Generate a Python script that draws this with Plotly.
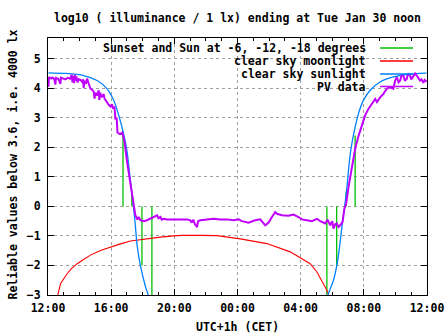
import plotly.graph_objects as go
from datetime import datetime, timedelta

# ---------------- data (hours after 12:00 on Mon Jan 29) ----------------
sun_hours = [0.03, 1.11, 2.26, 3.11, 3.74, 4.16, 4.48, 4.79, 5.01, 5.17, 5.38, 5.49, 5.65, 5.87, 6.18, 6.35, 6.50,
             17.60, 17.76, 18.08, 18.29, 18.46, 18.61, 18.78, 18.93, 19.09, 19.24, 19.45, 19.66, 19.97, 20.40,
             21.03, 21.87, 22.72, 23.98]
sun_values = [4.52, 4.50, 4.43, 4.26, 3.98, 3.59, 3.08, 2.45, 1.85, 1.10, 0.15, -0.40, -1.35, -2.05, -2.73, -3.00, -3.30,
              -3.30, -2.95, -2.50, -2.00, -1.39, -0.70, -0.02, 0.65, 1.55, 2.12, 2.68, 3.14, 3.59, 3.93,
              4.21, 4.38, 4.47, 4.51]

moon_hours = [0.58, 0.62, 0.79, 1.00, 1.21, 1.50, 1.85, 2.30, 2.69, 3.32, 3.95, 4.59, 5.22, 5.85, 6.48, 7.12,
              7.96, 8.50, 9.65, 10.70, 12.18, 13.86, 15.34, 15.97, 16.60, 17.03, 17.34, 17.55, 17.76, 17.80]
moon_values = [-3.20, -3.00, -2.62, -2.45, -2.28, -2.10, -1.94, -1.78, -1.65, -1.49, -1.37, -1.27, -1.17, -1.12, -1.07, -1.04,
               -1.00, -0.98, -0.98, -0.99, -1.10, -1.26, -1.54, -1.74, -1.94, -2.22, -2.50, -2.73, -2.96, -3.10]

event_hours = [4.75, 5.31, 5.95, 6.58, 17.66, 18.28, 18.88, 19.45]
event_tops = [2.42, 0.50, -2.00, -3.00, -3.00, -2.00, 0.50, 2.40]

pv_hours = [0.00, 0.03, 0.06, 0.20, 0.30, 0.40, 0.47, 0.50, 0.65, 0.79, 0.82, 0.95, 1.10, 1.25, 1.40, 1.50,
            1.55, 1.60, 1.65, 1.70, 1.75, 1.80, 1.87, 1.95, 2.05, 2.15, 2.22, 2.26, 2.30, 2.40, 2.48, 2.55,
            2.69, 2.80, 2.90, 2.95, 3.00, 3.10, 3.21, 3.25, 3.30, 3.40, 3.53, 3.58, 3.74, 3.85, 3.95, 4.06,
            4.10, 4.21, 4.27, 4.35, 4.40, 4.55, 4.71, 4.84, 5.01, 5.17, 5.28, 5.41, 5.53, 5.66, 5.74, 5.85,
            6.06, 6.27, 6.48, 6.69, 6.91, 7.00, 7.12, 7.20, 7.32, 7.54, 7.75, 7.96, 8.38, 8.80, 9.01, 9.10,
            9.20, 9.30, 9.44, 9.50, 9.65, 10.07, 10.49, 10.91, 11.33, 11.75, 11.97, 12.07, 12.28, 12.70, 13.12,
            13.44, 13.76, 13.97, 14.18, 14.39, 14.50, 14.81, 15.23, 15.55, 15.86, 16.08, 16.39, 16.71, 17.03,
            17.24, 17.55, 17.70, 17.87, 18.00, 18.08, 18.20, 18.29, 18.40, 18.50, 18.65, 18.77, 18.88, 19.03,
            19.24, 19.45, 19.66, 19.87, 20.08, 20.29, 20.51, 20.72, 20.83, 21.03, 21.24, 21.45, 21.66, 21.87,
            21.98, 22.09, 22.20, 22.30, 22.40, 22.50, 22.60, 22.72, 22.80, 22.93, 23.00, 23.14, 23.25, 23.35,
            23.45, 23.56, 23.65, 23.77, 23.85, 23.98]
pv_values = [4.35, 4.05, 4.38, 4.33, 4.36, 4.30, 4.12, 4.35, 4.32, 4.15, 4.36, 4.34, 4.30, 4.35, 4.32, 4.45,
             4.20, 4.42, 4.17, 4.45, 4.25, 4.40, 4.20, 4.30, 4.28, 4.22, 4.30, 4.00, 4.25, 4.15, 4.33, 4.20,
             3.98, 3.95, 3.87, 3.65, 3.85, 3.75, 3.93, 3.60, 3.85, 3.70, 3.80, 3.65, 3.50, 3.44, 3.38, 3.45,
             3.33, 3.35, 2.97, 2.97, 2.50, 2.45, 2.50, 2.20, 1.50, 0.90, 0.50, 0.00, -0.30, -0.45, -0.36, -0.47,
             -0.50, -0.47, -0.42, -0.36, -0.30, -0.40, -0.36, -0.45, -0.42, -0.44, -0.44, -0.44, -0.44, -0.44, -0.47, -0.55,
             -0.45, -0.60, -0.70, -0.50, -0.47, -0.44, -0.42, -0.44, -0.44, -0.47, -0.44, -0.44, -0.50, -0.55, -0.47,
             -0.44, -0.64, -0.55, -0.36, -0.19, -0.25, -0.30, -0.32, -0.28, -0.36, -0.44, -0.47, -0.50, -0.42,
             -0.50, -0.58, -0.45, -0.64, -0.50, -0.75, -0.60, -0.58, -0.70, -0.64, -0.53, -0.08, 0.09, 0.65,
             1.33, 1.95, 2.38, 2.70, 3.08, 3.30, 3.47, 3.64, 3.53, 3.69, 3.81, 3.98, 4.04, 3.98,
             4.26, 4.37, 4.20, 4.26, 4.45, 4.43, 4.25, 4.32, 4.50, 4.43, 4.30, 4.40, 4.50, 4.43,
             4.35, 4.26, 4.30, 4.18, 4.28, 4.22]

legend_labels = ["Sunset and Sun at -6, -12, -18 degrees", "clear sky moonlight", "clear sky sunlight", "PV data"]
title_text = "log10 ( illuminance / 1 lx) ending at Tue Jan 30 noon"
x_title = "UTC+1h (CET)"
y_title = "Reliable values below 3.6, i.e. 4000 lx"

# ---------------- build ----------------
base = datetime(2024, 1, 29, 12, 0)
def t(h):
    return base + timedelta(hours=h)

C_GREEN, C_RED, C_BLUE, C_PURPLE = "#00c000", "#ff0000", "#0080ff", "#c000ff"
FONT = dict(family="DejaVu Sans Mono, Liberation Mono, monospace", size=11.5, color="black", weight="bold")

gx, gy = [], []
for h, top in zip(event_hours, event_tops):
    gx += [t(h), t(h), None]
    gy += [0, top, None]

fig = go.Figure()
fig.add_trace(go.Scatter(x=gx, y=gy, mode="lines", line=dict(color=C_GREEN, width=1.3), showlegend=False))
fig.add_trace(go.Scatter(x=[t(h) for h in moon_hours], y=moon_values, mode="lines",
                         line=dict(color=C_RED, width=1.1), showlegend=False))
fig.add_trace(go.Scatter(x=[t(h) for h in sun_hours], y=sun_values, mode="lines",
                         line=dict(color=C_BLUE, width=1.3, shape="spline", smoothing=0.6), showlegend=False))
fig.add_trace(go.Scatter(x=[t(h) for h in pv_hours], y=pv_values, mode="lines",
                         line=dict(color=C_PURPLE, width=2), showlegend=False))

L, R, T, B = 47.5, 427.0, 38.0, 295.0
W, H = R - L, B - T
def px(x):
    return (x - L) / W
def py(y):
    return (B - y) / H

shapes = [dict(type="rect", xref="paper", yref="paper", x0=px(100), x1=1, y0=py(93), y1=1,
               fillcolor="white", line=dict(width=0), layer="between")]
annotations = []
rows = [48, 61, 74, 86.5]
colors = [C_GREEN, C_RED, C_BLUE, C_PURPLE]
for lab, yy, c in zip(legend_labels, rows, colors):
    annotations.append(dict(text=lab, xref="paper", yref="paper", x=px(368), y=py(yy), xanchor="right",
                            yanchor="middle", showarrow=False, font=FONT))
    shapes.append(dict(type="line", xref="paper", yref="paper", x0=px(380), x1=px(413), y0=py(yy), y1=py(yy),
                       line=dict(color=c, width=1.3), layer="above"))
annotations.append(dict(text=title_text, xref="paper", yref="paper", x=0.5, y=py(18), xanchor="center",
                        yanchor="middle", showarrow=False, font=FONT))
annotations.append(dict(text=x_title, xref="paper", yref="paper", x=px(237), y=py(327), xanchor="center",
                        yanchor="middle", showarrow=False, font=FONT))
annotations.append(dict(text=y_title, xref="paper", yref="paper", x=px(12), y=py(165), xanchor="center",
                        yanchor="middle", showarrow=False, textangle=-90, font=FONT))

grid = dict(showgrid=True, gridcolor="#a0a0a0", gridwidth=1, griddash="3px,3px")
fig.update_xaxes(range=[t(0), t(24)], type="date", tickformat="%H:%M", dtick=4 * 3600000,
                 tick0=t(0), ticks="inside", ticklen=6, tickcolor="black", mirror="ticks",
                 showline=True, linecolor="black", linewidth=1, zeroline=False, tickfont=FONT,
                 automargin=False, ticklabelstandoff=2,
                 minor=dict(dtick=3600000, ticks="inside", ticklen=3, tickcolor="black", showgrid=False),
                 **grid)
fig.update_yaxes(range=[-3, 5.7], dtick=1, tick0=0, ticks="inside", ticklen=6, tickcolor="black",
                 mirror="ticks", showline=True, linecolor="black", linewidth=1, zeroline=False,
                 tickfont=FONT, ticklabelstandoff=4, automargin=False, **grid)
fig.update_layout(width=447, height=335, margin=dict(l=L, r=447 - R, t=T, b=335 - B),
                  paper_bgcolor="white", plot_bgcolor="white", shapes=shapes, annotations=annotations,
                  showlegend=False)
fig.write_html("out.html")
